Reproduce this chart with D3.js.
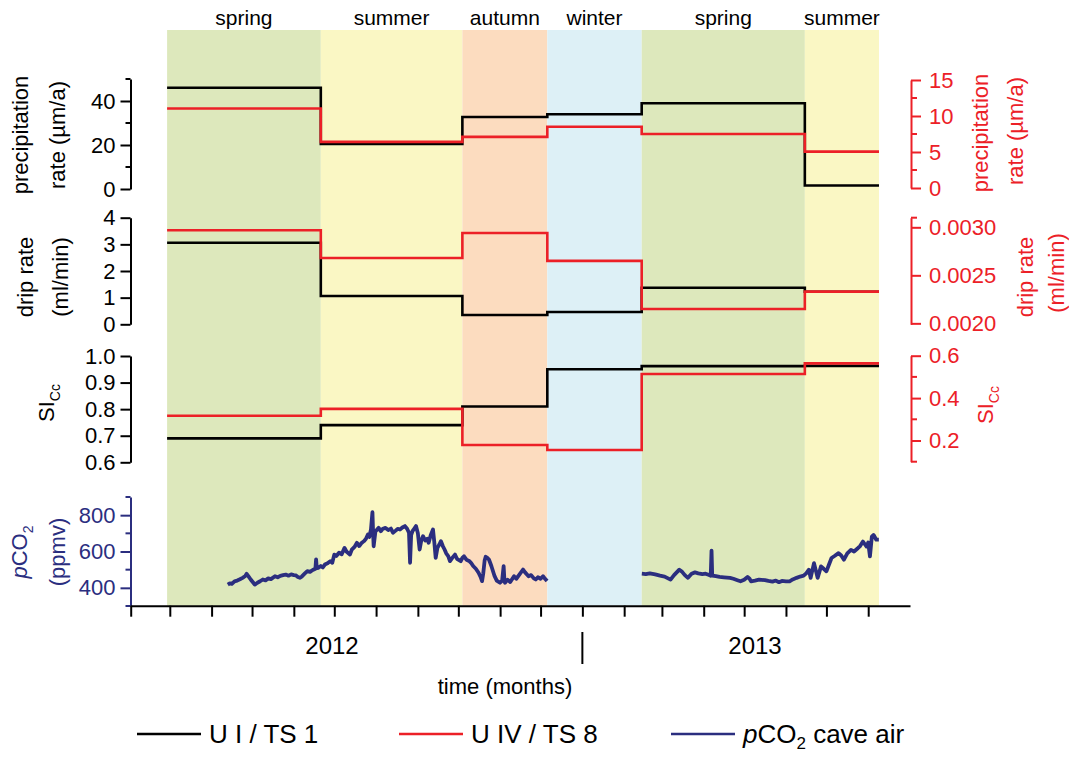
<html>
  <head>
    <meta charset="utf-8" />
    <script src="https://d3js.org/d3.v7.min.js"></script>
    <style>
      body {
        margin: 0;
        background: #fff;
      }
      text {
        font-family: "Liberation Sans", Arial, sans-serif;
      }
    </style>
  </head>

  <body>
    <svg id="chart" width="1069" height="758"></svg>
    <script>
      // seasons (start dates, last one closes the record)
      var seasons = ["spring", "summer", "autumn", "winter", "spring", "summer"];
      var seasonStart = ["2012-02-28", "2012-06-21", "2012-10-04", "2012-12-06", "2013-02-14", "2013-06-15"];
      var seasonEnd = "2013-08-09";
      var seasonColor = ["#dde8bc", "#faf7c4", "#fcdcbf", "#ddf0f6", "#dde8bc", "#faf7c4"];

      // one value per season
      var precipUI = [46, 20.5, 32.7, 34, 39, 1.6];
      var precipUIV = [11.05, 6.4, 7.1, 8.5, 7.5, 5.05];
      var dripUI = [3.06, 1.06, 0.35, 0.46, 1.37, 1.22];
      var dripUIV = [0.00297, 0.00268, 0.00294, 0.00265, 0.00215, 0.00233];
      var siUI = [0.69, 0.74, 0.81, 0.95, 0.962, 0.963];
      var siUIV = [0.317, 0.349, 0.179, 0.155, 0.514, 0.564];

      // pCO2 cave air, day counted from 1 Jan 2012, null = gap
      var pco2Day = [
        103, 104.5, 106, 108, 110, 112, 114, 116, 117, 118.5, 120, 121.5, 123, 125, 127, 129, 131, 133, 135, 138,
        140, 142, 144, 146, 148, 150, 152, 153.6, 155, 156.6, 158, 160, 162, 164, 166, 168, 168.5, 169, 170, 172,
        173.5, 175, 177, 179, 180.5, 182, 183.5, 185.5, 187.5, 189.6, 191, 193.6, 195, 197, 198.8, 200.5, 202, 204,
        205.5, 207, 208, 209.2, 210.3, 210.8, 211.2, 212.5, 214.9, 216.5, 218, 220, 222, 224, 225.5, 227.5, 229,
        230.7, 232.5, 234.4, 236, 237.4, 238.2, 239, 240, 241.5, 242.6, 244, 245.3, 246.5, 247.8, 249.5, 251, 252,
        253.5, 255.2, 256.2, 257.2, 258.5, 260, 261.1, 262.5, 263.8, 265, 266.5, 267.8, 269.5, 271.5, 273, 275.8,
        277, 278.2, 280, 282, 283.4, 285, 287, 289, 290.5, 291.6, 292.5, 293.5, 294.3, 295.5, 296.7, 298.5, 300.9,
        302.5, 304.9, 306.5, 307.6, 308.2, 308.6, 310.5, 312.5, 315.3, 317, 319, 322, 323.5, 326.1, 328, 330, 331.4,
        333, 335, 336.8, 338.5, 339.8,
        null,
        410.1, 413, 416, 420, 423.6, 427, 431.4, 434, 437.9, 440, 442, 444.3, 447, 449.5, 452, 455, 457.4, 459.5,
        461.2, 461.8, 462.3, 465, 467.8, 471, 475.5, 478, 481, 483.3, 486, 488.5, 490, 491.1, 494, 497, 501.4, 504,
        507, 509.5, 511.8, 514, 517, 519.7, 522, 524.9, 527.5, 530.1, 532, 534, 535.3, 537.8, 539, 540.5, 543, 545,
        547, 549, 550.8, 553, 556, 558, 560, 562.5, 565.2, 567.5, 570.3, 572, 574.1, 575.5, 576.8, 578, 579.3,
        580.7, 582, 584, 585.9
      ];
      var pco2Val = [
        418, 425, 422, 436, 440, 447, 455, 465, 477, 462, 446, 432, 418, 428, 436, 446, 441, 452, 448, 464,
        458, 466, 470, 473, 467, 474, 470, 468, 460, 455, 463, 478, 492, 488, 498, 505, 556, 508, 510, 520,
        512, 528, 535, 547, 538, 583, 575, 593, 585, 620, 600, 583, 610, 625, 648, 630, 645, 657,
        670, 694, 680, 721, 816, 700, 629, 710, 730, 712, 725, 730, 718, 726, 703, 715, 725,
        721, 732, 740, 725, 703, 538, 690, 712, 728, 740, 700, 611, 660, 684, 660, 670, 648,
        690, 721, 650, 565, 620, 640, 657, 630, 611, 590, 575, 547, 565, 583, 560, 547,
        565, 574, 555, 548, 538, 520, 505, 483, 460, 437, 480, 550, 571, 565, 556, 520, 464,
        440, 428, 440, 519, 440, 428, 445, 432, 464, 450, 470, 501, 485, 464, 470, 452, 446,
        458, 450, 464, 448, 437,
        null,
        478, 476, 480, 474, 467, 462, 445, 470, 500, 488, 470, 455, 478, 485, 480, 476, 478, 472,
        467, 605, 467, 464, 460, 458, 455, 450, 442, 436, 445, 460, 450, 436, 440, 445, 442, 438,
        434, 440, 431, 438, 436, 436, 446, 455, 462, 467, 480, 500, 455, 536, 500, 455, 518, 505,
        491, 530, 564, 575, 591, 578, 555, 590, 609, 600, 618, 630, 655, 640, 627, 650, 573,
        682, 691, 665, 665
      ];

      var RED = "#ec2027",
        NAVY = "#2b2e7f",
        FONT = 22;

      var svg = d3.select("#chart");
      var parse = d3.utcParse("%Y-%m-%d");
      var day0 = Date.UTC(2012, 0, 1);
      var xAxisY = 605.7,
        bgTop = 30;

      var x = d3
        .scaleUtc()
        .domain([Date.UTC(2012, 1, 1), Date.UTC(2013, 8, 1)])
        .range([130.7, 910]);

      var starts = seasonStart.map(parse),
        ends = starts.slice(1).concat([parse(seasonEnd)]);

      // season backgrounds
      svg
        .selectAll("rect.season")
        .data(seasons)
        .join("rect")
        .attr("class", "season")
        .attr("x", (d, i) => x(starts[i]))
        .attr("width", (d, i) => x(ends[i]) - x(starts[i]))
        .attr("y", bgTop)
        .attr("height", xAxisY - bgTop)
        .attr("fill", (d, i) => seasonColor[i]);

      svg
        .selectAll("text.season")
        .data(seasons)
        .join("text")
        .attr("class", "season")
        .attr("x", (d, i) => (x(starts[i]) + x(ends[i])) / 2)
        .attr("y", 25)
        .attr("text-anchor", "middle")
        .attr("font-size", 21)
        .text((d) => d);

      // y scales
      var yPrecL = d3.scaleLinear().domain([0, 50]).range([189, 79]);
      var yPrecR = d3.scaleLinear().domain([0, 15]).range([188, 80]);
      var yDripL = d3.scaleLinear().domain([0, 4]).range([324.3, 217.7]);
      var yDripR = d3.scaleLinear().domain([0.00199, 0.0031]).range([324.3, 217.7]);
      var ySiL = d3.scaleLinear().domain([0.6, 1.0]).range([462.3, 356]);
      var ySiR = d3.scaleLinear().domain([0.1, 0.6]).range([461.7, 355.7]);
      var yCO2 = d3.scaleLinear().domain([300, 900]).range([606, 497]);

      // step lines
      function steps(vals, y, color) {
        var pts = vals.map((v, i) => [starts[i], v]);
        pts.push([ends[ends.length - 1], vals[vals.length - 1]]);
        svg
          .append("path")
          .datum(pts)
          .attr("fill", "none")
          .attr("stroke", color)
          .attr("stroke-width", 2.6)
          .attr(
            "d",
            d3
              .line()
              .x((d) => x(d[0]))
              .y((d) => y(d[1]))
              .curve(d3.curveStepAfter)
          );
      }
      steps(precipUI, yPrecL, "#000");
      steps(dripUI, yDripL, "#000");
      steps(siUI, ySiL, "#000");
      steps(precipUIV, yPrecR, RED);
      steps(dripUIV, yDripR, RED);
      steps(siUIV, ySiR, RED);

      var co2 = pco2Day.map((d, i) => (d == null ? null : [day0 + d * 864e5, pco2Val[i]]));
      svg
        .append("path")
        .datum(co2)
        .attr("fill", "none")
        .attr("stroke", NAVY)
        .attr("stroke-width", 3.8)
        .attr("stroke-linejoin", "round")
        .attr(
          "d",
          d3
            .line()
            .defined((d) => d != null)
            .x((d) => x(d[0]))
            .y((d) => yCO2(d[1]))
        );

      // y axes
      function yAxis(scale, side, major, minor, fmt, color) {
        var left = side == "left";
        var ax = left ? d3.axisLeft(scale) : d3.axisRight(scale);
        var g = svg
          .append("g")
          .attr("transform", "translate(" + (left ? 130.5 : 911) + ",0)")
          .call(ax.tickValues(major).tickSize(10).tickPadding(left ? 5 : 8).tickSizeOuter(0).tickFormat(fmt));
        g.selectAll("line, path").attr("stroke", color).attr("stroke-width", 2);
        g.selectAll("text").attr("fill", color).attr("font-size", FONT).attr("font-family", "Liberation Sans, Arial, sans-serif");
        g.selectAll("line.minor")
          .data(minor)
          .join("line")
          .attr("class", "minor")
          .attr("x2", left ? -5 : 6)
          .attr("y1", (d) => scale(d))
          .attr("y2", (d) => scale(d))
          .attr("stroke", color)
          .attr("stroke-width", 2);
      }
      yAxis(yPrecL, "left", [0, 20, 40], [10, 30, 50], d3.format("d"), "#000");
      yAxis(yDripL, "left", [0, 1, 2, 3, 4], [], d3.format("d"), "#000");
      yAxis(ySiL, "left", [0.6, 0.7, 0.8, 0.9, 1.0], [], d3.format(".1f"), "#000");
      yAxis(yCO2, "left", [400, 600, 800], [300, 500, 700, 900], d3.format("d"), NAVY);
      yAxis(yPrecR, "right", [0, 5, 10, 15], [2.5, 7.5, 12.5], d3.format("d"), RED);
      yAxis(yDripR, "right", [0.002, 0.0025, 0.003], [0.0031], d3.format(".4f"), RED);
      yAxis(ySiR, "right", [0.2, 0.4, 0.6], [0.1, 0.3, 0.5], d3.format(".1f"), RED);

      // x axis
      var xg = svg
        .append("g")
        .attr("transform", "translate(0," + xAxisY + ")")
        .call(
          d3
            .axisBottom(x)
            .tickValues(d3.utcMonth.range(x.domain()[0], x.domain()[1]))
            .tickSize(11)
            .tickSizeOuter(0)
            .tickFormat("")
        );
      xg.selectAll("line, path").attr("stroke", "#000").attr("stroke-width", 2);

      svg
        .append("line")
        .attr("x1", x(Date.UTC(2013, 0, 1)))
        .attr("x2", x(Date.UTC(2013, 0, 1)))
        .attr("y1", 632)
        .attr("y2", 664)
        .attr("stroke", "#000")
        .attr("stroke-width", 2);

      svg.append("text").attr("x", 332).attr("y", 646).attr("dy", "0.35em").attr("text-anchor", "middle").attr("font-size", 24).text("2012");
      svg.append("text").attr("x", 755).attr("y", 646).attr("dy", "0.35em").attr("text-anchor", "middle").attr("font-size", 24).text("2013");
      svg.append("text").attr("x", 505).attr("y", 686).attr("dy", "0.35em").attr("text-anchor", "middle").attr("font-size", FONT).text("time (months)");

      // rotated axis titles; parts = [[text, style]]
      function vtitle(cx, cy, parts, color) {
        var t = svg
          .append("text")
          .attr("transform", "translate(" + cx + "," + cy + ") rotate(-90)")
          .attr("text-anchor", "middle")
          .attr("dy", "0.35em")
          .attr("fill", color)
          .attr("font-size", FONT);
        parts.forEach(function (p) {
          var s = t.append("tspan").text(p[0]);
          if (p[1] == "sub") s.attr("font-size", 14).attr("dy", "0.45em");
          if (p[1] == "it") s.attr("font-style", "italic");
        });
      }
      vtitle(20, 135, [["precipitation"]], "#000");
      vtitle(57, 135, [["rate (µm/a)"]], "#000");
      vtitle(980, 133, [["precipitation"]], RED);
      vtitle(1015, 131, [["rate (µm/a)"]], RED);
      vtitle(25, 277, [["drip rate"]], "#000");
      vtitle(60, 277, [["(ml/min)"]], "#000");
      vtitle(1025, 277, [["drip rate"]], RED);
      vtitle(1056, 273, [["(ml/min)"]], RED);
      vtitle(46, 403, [["SI"], ["Cc", "sub"]], "#000");
      vtitle(985, 405, [["SI"], ["Cc", "sub"]], RED);
      vtitle(19, 552, [["p", "it"], ["CO"], ["2", "sub"]], NAVY);
      vtitle(57, 552, [["(ppmv)"]], NAVY);

      // legend
      var legend = [
        { label: "U I / TS 1", color: "#000", x: 137 },
        { label: "U IV / TS 8", color: RED, x: 399 },
        { label: null, color: NAVY, x: 671 },
      ];
      legend.forEach(function (l) {
        svg.append("line").attr("x1", l.x).attr("x2", l.x + 64).attr("y1", 734).attr("y2", 734).attr("stroke", l.color).attr("stroke-width", 2.6);
        var t = svg.append("text").attr("x", l.x + 72).attr("y", 743).attr("font-size", 26);
        if (l.label) t.text(l.label);
        else {
          t.append("tspan").attr("font-style", "italic").text("p");
          t.append("tspan").text("CO");
          t.append("tspan").attr("font-size", 17).attr("dy", 6).text("2");
          t.append("tspan").attr("dy", -6).text(" cave air");
        }
      });
    </script>
  </body>
</html>
